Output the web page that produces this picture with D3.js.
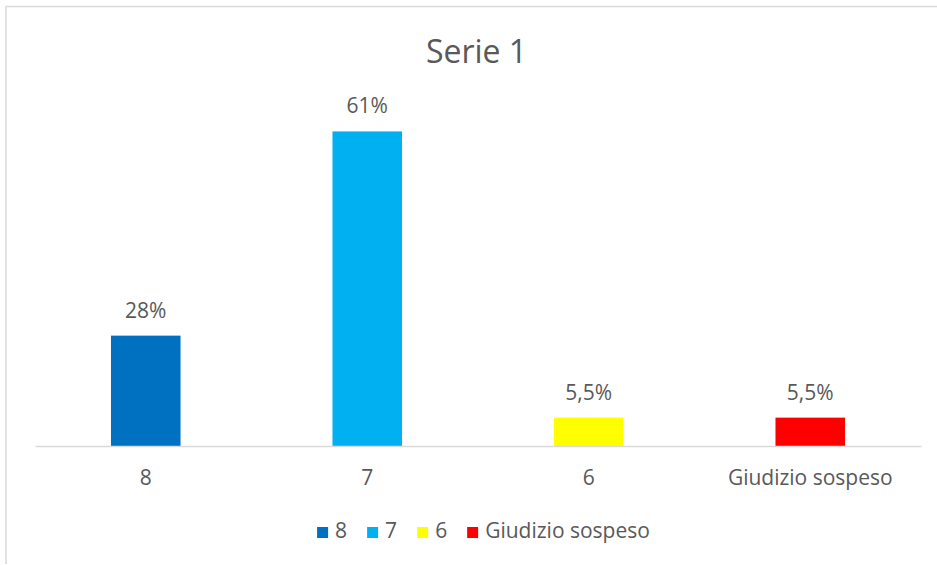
<!DOCTYPE html>
<html>
<head>
    <meta http-equiv="Content-Type" content="text/html;charset=utf-8" />
    <style>
        body { margin: 0; background: #fff; }
        text { font-family: "Open Sans", sans-serif; fill: #595959; }
    </style>
</head>
<body>
    <svg width="937" height="565"></svg>

    <script src="https://cdn.jsdelivr.net/npm/d3@7"></script>
    <script>
        // data
        var categories = ["8", "7", "6", "Giudizio sospeso"];
        var values = [21.4, 61, 5.5, 5.5];          // bar heights as drawn
        var valueLabels = ["28%", "61%", "5,5%", "5,5%"];
        var colors = ["#0070C0", "#00B0F0", "#FFFF00", "#FF0000"];
        var title = "Serie 1";

        var svg = d3.select("svg");

        // chart frame (right/bottom edges are cut off in the original)
        svg.append("path")
            .attr("d", "M6,564V6.5H937")
            .attr("fill", "none")
            .attr("stroke", "#d9d9d9")
            .attr("stroke-width", 1.5);

        var margin = { top: 85, left: 35, right: 16, bottom: 119 };
        var width = 937 - margin.left - margin.right,
            height = 565 - margin.top - margin.bottom;

        var g = svg.append("g")
            .attr("transform", "translate(" + margin.left + "," + margin.top + ")");

        var x = d3.scaleBand()
            .domain(categories)
            .range([0, width])
            .paddingInner(0.686)
            .paddingOuter(0.343);

        var y = d3.scaleLinear()
            .domain([0, 70])
            .range([height, 0]);

        var z = d3.scaleOrdinal().domain(categories).range(colors);

        var data = categories.map(function (c, i) {
            return { cat: c, value: values[i], label: valueLabels[i] };
        });

        svg.append("text")
            .attr("x", 476.5)
            .attr("y", 63)
            .attr("text-anchor", "middle")
            .style("font-size", "32px")
            .text(title);

        g.selectAll(".bar")
            .data(data)
            .enter().append("rect")
            .attr("class", "bar")
            .attr("x", function (d) { return x(d.cat); })
            .attr("y", function (d) { return y(d.value); })
            .attr("width", x.bandwidth())
            .attr("height", function (d) { return height - y(d.value); })
            .attr("fill", function (d) { return z(d.cat); });

        g.selectAll(".label")
            .data(data)
            .enter().append("text")
            .attr("class", "label")
            .attr("x", function (d) { return x(d.cat) + x.bandwidth() / 2; })
            .attr("y", function (d) { return y(d.value) - 18; })
            .attr("text-anchor", "middle")
            .style("font-size", "21px")
            .text(function (d) { return d.label; });

        var xAxis = g.append("g")
            .attr("transform", "translate(0," + height + ")")
            .call(d3.axisBottom(x).tickSize(0).tickPadding(0).tickSizeOuter(0));
        xAxis.select(".domain")
            .attr("stroke", "#d9d9d9")
            .attr("stroke-width", 1.5);
        xAxis.selectAll(".tick text")
            .attr("dy", null)
            .attr("y", 39)
            .attr("fill", "#595959")
            .style("font-family", "'Open Sans', sans-serif")
            .style("font-size", "21px");

        // legend
        var legend = svg.append("g").attr("class", "legend");
        var lx = 0;
        categories.forEach(function (c, i) {
            var item = legend.append("g").attr("transform", "translate(" + lx + ",0)");
            item.append("rect")
                .attr("x", 0).attr("y", -11)
                .attr("width", 11).attr("height", 11)
                .attr("fill", z(c));
            var t = item.append("text")
                .attr("x", 18)
                .style("font-size", "21px")
                .text(c);
            lx += 18 + t.node().getComputedTextLength() + 20;
        });
        lx -= 20;
        legend.attr("transform", "translate(" + (483.5 - lx / 2) + ",538)");
    </script>
</body>
</html>
